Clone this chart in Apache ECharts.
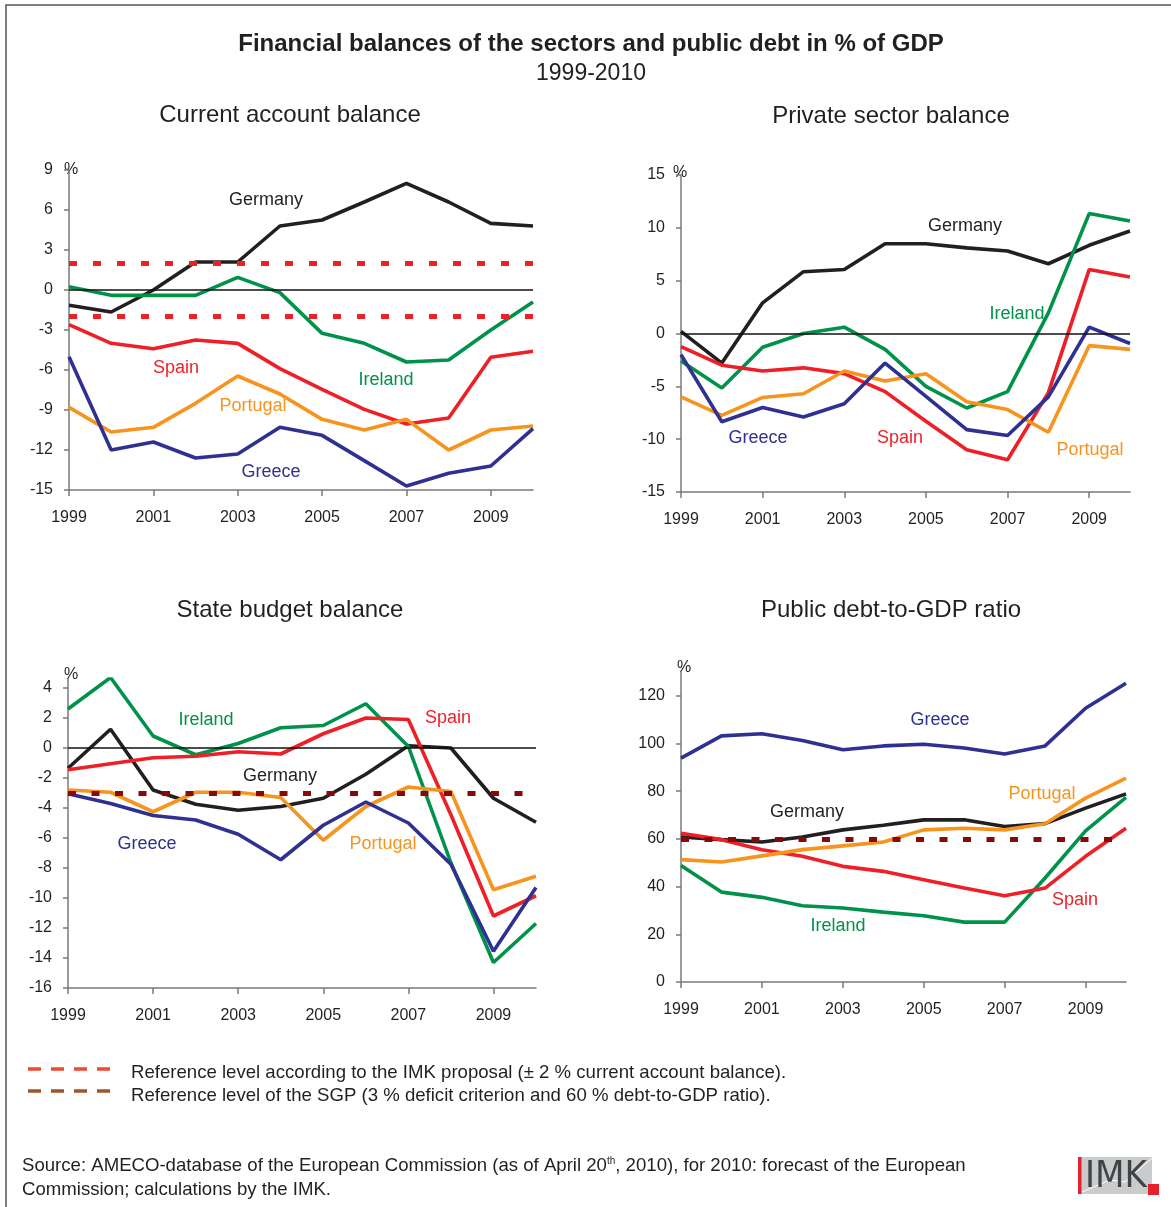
<!DOCTYPE html>
<html>
<head>
<meta charset="utf-8">
<script src="https://cdn.jsdelivr.net/npm/echarts@6/dist/echarts.min.js"></script>
<style>
  html, body { margin: 0; padding: 0; background: #fff; }
  #chart { width: 1171px; height: 1207px; }
</style>
</head>
<body>
<div id="chart"></div>
<script>
// years on the x axis
const years = ['1999', '2000', '2001', '2002', '2003', '2004', '2005', '2006', '2007', '2008', '2009', '2010'];

// current account balance, % of GDP
const caGermany  = [-1.15, -1.65, 0.0, 2.1, 2.1, 4.8, 5.25, 6.6, 8.0, 6.6, 5.0, 4.8];
const caIreland  = [0.25, -0.4, -0.4, -0.4, 0.95, -0.2, -3.25, -4.0, -5.4, -5.25, -3.0, -0.9];
const caSpain    = [-2.6, -4.0, -4.4, -3.75, -4.0, -5.9, -7.45, -8.95, -10.05, -9.6, -5.05, -4.6];
const caPortugal = [-8.8, -10.65, -10.3, -8.5, -6.45, -7.8, -9.7, -10.5, -9.7, -12.0, -10.5, -10.2];
const caGreece   = [-5.0, -12.0, -11.4, -12.6, -12.3, -10.3, -10.9, -12.8, -14.7, -13.75, -13.2, -10.4];

// private sector balance
const psGermany  = [0.2, -2.8, 2.9, 5.85, 6.05, 8.5, 8.5, 8.1, 7.8, 6.6, 8.35, 9.7];
const psIreland  = [-2.6, -5.15, -1.3, 0.0, 0.6, -1.5, -5.0, -7.05, -5.5, 1.95, 11.35, 10.65];
const psSpain    = [-1.25, -3.0, -3.55, -3.25, -3.8, -5.5, -8.3, -11.0, -11.95, -5.6, 6.05, 5.35];
const psPortugal = [-6.0, -7.75, -6.05, -5.7, -3.55, -4.5, -3.8, -6.45, -7.2, -9.35, -1.15, -1.5];
const psGreece   = [-2.0, -8.35, -7.0, -7.9, -6.65, -2.8, -5.95, -9.1, -9.65, -6.0, 0.6, -0.95];

// state budget balance
const sbGermany  = [-1.35, 1.25, -2.8, -3.75, -4.15, -3.9, -3.35, -1.75, 0.15, 0.0, -3.35, -4.95];
const sbIreland  = [2.6, 4.7, 0.8, -0.45, 0.3, 1.35, 1.5, 2.95, 0.1, -7.65, -14.3, -11.7];
const sbSpain    = [-1.45, -1.05, -0.65, -0.55, -0.25, -0.4, 0.95, 2.0, 1.9, -4.45, -11.2, -9.85];
const sbPortugal = [-2.8, -2.95, -4.25, -2.95, -2.95, -3.3, -6.15, -3.9, -2.6, -2.9, -9.45, -8.55];
const sbGreece   = [-3.05, -3.7, -4.5, -4.8, -5.75, -7.45, -5.15, -3.6, -5.0, -7.75, -13.55, -9.3];

// public debt-to-GDP ratio
const pdGermany  = [60.8, 59.7, 58.7, 60.8, 63.8, 65.7, 68.0, 68.0, 65.2, 66.4, 72.9, 78.9];
const pdIreland  = [48.9, 37.7, 35.5, 32.0, 31.0, 29.3, 27.8, 25.1, 25.1, 43.6, 63.4, 77.4];
const pdSpain    = [62.4, 59.7, 55.5, 52.7, 48.5, 46.4, 42.9, 39.4, 36.2, 39.4, 52.7, 64.5];
const pdPortugal = [51.3, 50.3, 52.9, 55.5, 57.1, 58.7, 63.8, 64.5, 63.8, 66.4, 77.1, 85.5];
const pdGreece   = [93.9, 103.2, 104.1, 101.3, 97.4, 99.0, 99.7, 98.1, 95.6, 99.0, 114.8, 125.3];

// reference levels
const imkLevels = [2, -2];
const sgpDeficit = [-3];
const sgpDebt = [60];

// y tick labels per panel
const caTicks = [-15, -12, -9, -6, -3, 0, 3, 6, 9];
const psTicks = [-15, -10, -5, 0, 5, 10, 15];
const sbTicks = [-16, -14, -12, -10, -8, -6, -4, -2, 0, 2, 4];
const pdTicks = [0, 20, 40, 60, 80, 100, 120];

const colors = {
    Germany: '#231f20',
    Ireland: '#00924a',
    Spain: '#ee1f26',
    Portugal: '#f7941e',
    Greece: '#2e3192'
};
const FONT = '"Liberation Sans", Arial, sans-serif';
const TXT = '#231f20';

const chart = echarts.init(document.getElementById('chart'));

const grids = [
    { left: 69, top: 170, width: 464, height: 320 },
    { left: 681, top: 175, width: 449, height: 317 },
    { left: 68, top: 679, width: 468, height: 309 },
    { left: 681, top: 672, width: 445, height: 310 }
];

function xAxis(i) {
    return {
        type: 'category', gridIndex: i, data: years, boundaryGap: false,
        axisLine: { onZero: false, lineStyle: { color: '#7a7a7a', width: 1.5 } },
        axisTick: { interval: 1, length: 6, lineStyle: { color: '#7a7a7a', width: 1.5 } },
        axisLabel: { interval: 1, margin: 20, fontSize: 16, color: TXT, fontFamily: FONT }
    };
}
function yAxis(i, min, max, ticks) {
    return {
        type: 'value', gridIndex: i, min: min, max: max,
        splitLine: { show: false },
        axisLine: { show: true, lineStyle: { color: '#7a7a7a', width: 1.5 } },
        axisTick: { show: true, length: 5, customValues: ticks, lineStyle: { color: '#7a7a7a', width: 1.5 } },
        axisLabel: { customValues: ticks, margin: 16, fontSize: 16, color: TXT, fontFamily: FONT }
    };
}

function lines(i, data) {
    return Object.keys(data).map(name => ({
        name: name, type: 'line', xAxisIndex: i, yAxisIndex: i,
        data: data[name], symbol: 'none', silent: true,
        lineStyle: { color: colors[name], width: 3.6 },
        z: 3
    }));
}
function refSeries(i, values, color, dash) {
    return {
        type: 'line', xAxisIndex: i, yAxisIndex: i, data: [], silent: true, z: 4,
        markLine: { symbol: 'none', silent: true, animation: false, label: { show: false },
            data: values.map(v => ({ yAxis: v, lineStyle: { color: color, width: 5, type: dash } })) }
    };
}
function zeroSeries(i) {
    return {
        type: 'line', xAxisIndex: i, yAxisIndex: i, data: [], silent: true, z: 2,
        markLine: { symbol: 'none', silent: true, animation: false, label: { show: false },
            data: [{ yAxis: 0, lineStyle: { color: '#111', width: 1.5, type: 'solid' } }] }
    };
}

function txt(x, y, s, opt) {
    return {
        type: 'text', x: x, y: y, silent: true,
        style: Object.assign({ text: s, fill: TXT, font: '18px ' + FONT, textAlign: 'center', textVerticalAlign: 'middle' }, opt || {})
    };
}
function lab(x, y, name) { return txt(x, y, name, { fill: colors[name], font: '18px ' + FONT }); }

const series = [].concat(
    [zeroSeries(0)],
    lines(0, { Germany: caGermany, Ireland: caIreland, Spain: caSpain, Portugal: caPortugal, Greece: caGreece }),
    [refSeries(0, imkLevels, '#ee1f26', [8, 16])],
    [zeroSeries(1)],
    lines(1, { Germany: psGermany, Ireland: psIreland, Spain: psSpain, Portugal: psPortugal, Greece: psGreece }),
    [zeroSeries(2)],
    lines(2, { Germany: sbGermany, Ireland: sbIreland, Spain: sbSpain, Portugal: sbPortugal, Greece: sbGreece }),
    [refSeries(2, sgpDeficit, '#860a0a', [8, 15.5])],
    lines(3, { Germany: pdGermany, Ireland: pdIreland, Spain: pdSpain, Portugal: pdPortugal, Greece: pdGreece }),
    [refSeries(3, sgpDebt, '#860a0a', [8, 15.5])]
);

const graphics = [
    // frame
    { type: 'polyline', silent: true, shape: { points: [[6, 1207], [6, 5], [1171, 5]] }, style: { stroke: '#555', lineWidth: 1.5, fill: null } },
    txt(591, 44, 'Financial balances of the sectors and public debt in % of GDP', { font: 'bold 24px ' + FONT }),
    txt(591, 74, '1999-2010', { font: '23px ' + FONT }),
    txt(290, 115, 'Current account balance', { font: '24px ' + FONT }),
    txt(891, 116, 'Private sector balance', { font: '24px ' + FONT }),
    txt(290, 610, 'State budget balance', { font: '24px ' + FONT }),
    txt(891, 610, 'Public debt-to-GDP ratio', { font: '24px ' + FONT }),
    txt(71, 170, '%', { font: '16px ' + FONT }),
    txt(680, 173, '%', { font: '16px ' + FONT }),
    txt(71, 675, '%', { font: '16px ' + FONT }),
    txt(684, 668, '%', { font: '16px ' + FONT }),
    // series labels
    lab(266, 200, 'Germany'), lab(176, 368, 'Spain'), lab(386, 380, 'Ireland'), lab(253, 406, 'Portugal'), lab(271, 472, 'Greece'),
    lab(965, 226, 'Germany'), lab(1017, 314, 'Ireland'), lab(758, 438, 'Greece'), lab(900, 438, 'Spain'), lab(1090, 450, 'Portugal'),
    lab(206, 720, 'Ireland'), lab(448, 718, 'Spain'), lab(280, 776, 'Germany'), lab(147, 844, 'Greece'), lab(383, 844, 'Portugal'),
    lab(940, 720, 'Greece'), lab(1042, 794, 'Portugal'), lab(807, 812, 'Germany'), lab(1075, 900, 'Spain'), lab(838, 926, 'Ireland'),
    // legend
    { type: 'line', silent: true, shape: { x1: 28, y1: 1069, x2: 112, y2: 1069 }, style: { stroke: '#f04a32', lineWidth: 3.5, lineDash: [13, 10] } },
    { type: 'line', silent: true, shape: { x1: 28, y1: 1091, x2: 112, y2: 1091 }, style: { stroke: '#a0562c', lineWidth: 3.5, lineDash: [13, 10] } },
    txt(131, 1073, 'Reference level according to the IMK proposal (± 2 % current account balance).', { font: '18.6px ' + FONT, textAlign: 'left' }),
    txt(131, 1096, 'Reference level of the SGP (3 % deficit criterion and 60 % debt-to-GDP ratio).', { font: '18.6px ' + FONT, textAlign: 'left' }),
    // source
    {
        type: 'text', x: 22, y: 1166, silent: true,
        style: {
            text: '{a|Source: AMECO-database of the European Commission (as of April 20}{s|th}{a|, 2010), for 2010: forecast of the European}',
            textVerticalAlign: 'middle',
            rich: { a: { font: '18.6px ' + FONT, fill: TXT }, s: { font: '10px ' + FONT, fill: TXT, verticalAlign: 'top', padding: [0, 0, 6, 0] } }
        }
    },
    txt(22, 1190, 'Commission; calculations by the IMK.', { font: '18.6px ' + FONT, textAlign: 'left' }),
    // IMK logo
    { type: 'rect', silent: true, shape: { x: 1078, y: 1157, width: 74, height: 37 }, style: { fill: '#c9cbcd' } },
    { type: 'polyline', silent: true, shape: { points: [[1082, 1192], [1110, 1180], [1125, 1182], [1152, 1158]] }, style: { stroke: '#fff', lineWidth: 1, fill: null } },
    { type: 'rect', silent: true, shape: { x: 1078, y: 1157, width: 3.5, height: 37 }, style: { fill: '#e3222b' } },
    txt(1116, 1177, 'IMK', { font: '38px "Liberation Sans Narrow", "DejaVu Sans Condensed", ' + FONT, fill: '#3f4447' }),
    { type: 'rect', silent: true, shape: { x: 1148, y: 1184, width: 11, height: 11 }, style: { fill: '#e3222b' } }
];

chart.setOption({
    animation: false,
    backgroundColor: '#fff',
    textStyle: { fontFamily: FONT },
    grid: grids,
    xAxis: [xAxis(0), xAxis(1), xAxis(2), xAxis(3)],
    yAxis: [
        yAxis(0, -15, 9, caTicks),
        yAxis(1, -15, 15, psTicks),
        yAxis(2, -16, 4.6, sbTicks),
        yAxis(3, 0, 130, pdTicks)
    ],
    series: series,
    graphic: graphics
});
</script>
</body>
</html>
